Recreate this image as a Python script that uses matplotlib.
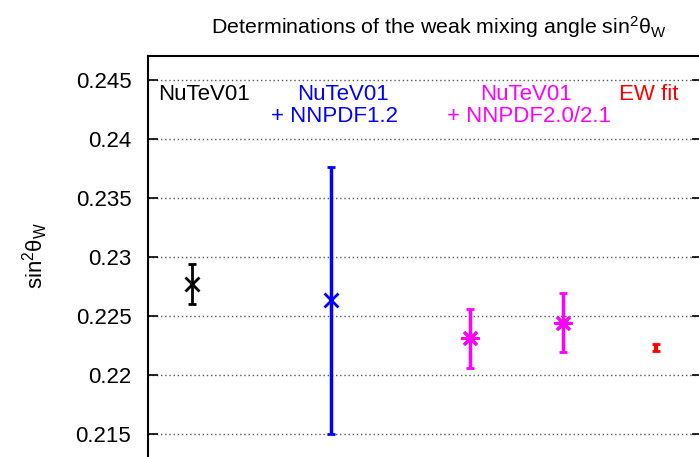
import matplotlib
matplotlib.use("Agg")
import matplotlib.pyplot as plt

plt.rcParams["font.family"] = ["Liberation Sans", "DejaVu Sans"]
plt.rcParams["mathtext.fontset"] = "custom"
plt.rcParams["mathtext.rm"] = "Liberation Sans"
plt.rcParams["mathtext.it"] = "Liberation Sans"

# Data: sin^2 theta_W determinations
groups = ["NuTeV01", "NuTeV01 + NNPDF1.2", "NuTeV01 + NNPDF2.0", "NuTeV01 + NNPDF2.1", "EW fit"]
x_pos = [1.0, 2.5, 4.0, 5.0, 6.0]
values = [0.2277, 0.2263, 0.2231, 0.2244, 0.2223]
errors = [0.0017, 0.0113, 0.0025, 0.0025, 0.0003]
colors = ["black", "#0000ff", "#ff00ff", "#ff00ff", "#ff0000"]
yticks = [0.215, 0.22, 0.225, 0.23, 0.235, 0.24, 0.245]

W, H = 699, 457
fig = plt.figure(figsize=(W / 100, H / 100), dpi=100)
# axes extends past the right and bottom edge of the picture
top_px, bot_px, left_px, right_px = 56, 493, 148, 702
ax = fig.add_axes([left_px / W, 1 - bot_px / H, (right_px - left_px) / W, (bot_px - top_px) / H])

lws = [2, 2.5, 2.5, 2.5, 3]
for i in range(len(values)):
    c = colors[i]
    ms = 10
    if c == "#ff00ff":
        mk = (8, 2, 0)
        ms = 13
    elif c == "#ff0000":
        mk = None
    else:
        mk = "x"
    ax.errorbar(x_pos[i], values[i], yerr=errors[i], color=c, marker=mk,
                markersize=ms, markeredgewidth=2, elinewidth=lws[i],
                capsize=3, capthick=2.5, linestyle="none")

# labels above the points
fs = 16
ax.text(1.12, 0.24373, "NuTeV01", color="black", fontsize=fs, ha="center", va="center")
ax.text(2.62, 0.24373, "NuTeV01", color="#0000ff", fontsize=fs, ha="center", va="center")
ax.text(2.53, 0.24188, "+ NNPDF1.2", color="#0000ff", fontsize=fs, ha="center", va="center")
ax.text(4.60, 0.24373, "NuTeV01", color="#ff00ff", fontsize=fs, ha="center", va="center")
ax.text(4.63, 0.24188, "+ NNPDF2.0/2.1", color="#ff00ff", fontsize=fs, ha="center", va="center")
ax.text(5.925, 0.24373, "EW fit", color="#ff0000", fontsize=fs, ha="center", va="center")

ax.set_xlim(0.52, 6.5)
ax.set_ylim(0.21, 0.247)
ax.set_xticks([])
ax.set_yticks(yticks)
ax.set_yticklabels([f"{t:g}" for t in yticks])
ax.tick_params(axis="y", direction="in", length=7, width=1.2, labelsize=fs, pad=12,
               right=True)
ax.yaxis.grid(True, linestyle=(0, (1, 2)), color="#555555", linewidth=1)
for s in ax.spines.values():
    s.set_linewidth(1.5)

fig.text(439 / W, 1 - 27 / H, r"Determinations of the weak mixing angle sin$^2\mathrm{\theta}_\mathrm{W}$",
         fontsize=15.4, ha="center", va="center")
fig.text(35 / W, 1 - 255 / H, r"sin$^2\mathrm{\theta}_\mathrm{W}$", fontsize=fs,
         rotation=90, ha="center", va="center")

fig.savefig("out.png", dpi=100)
